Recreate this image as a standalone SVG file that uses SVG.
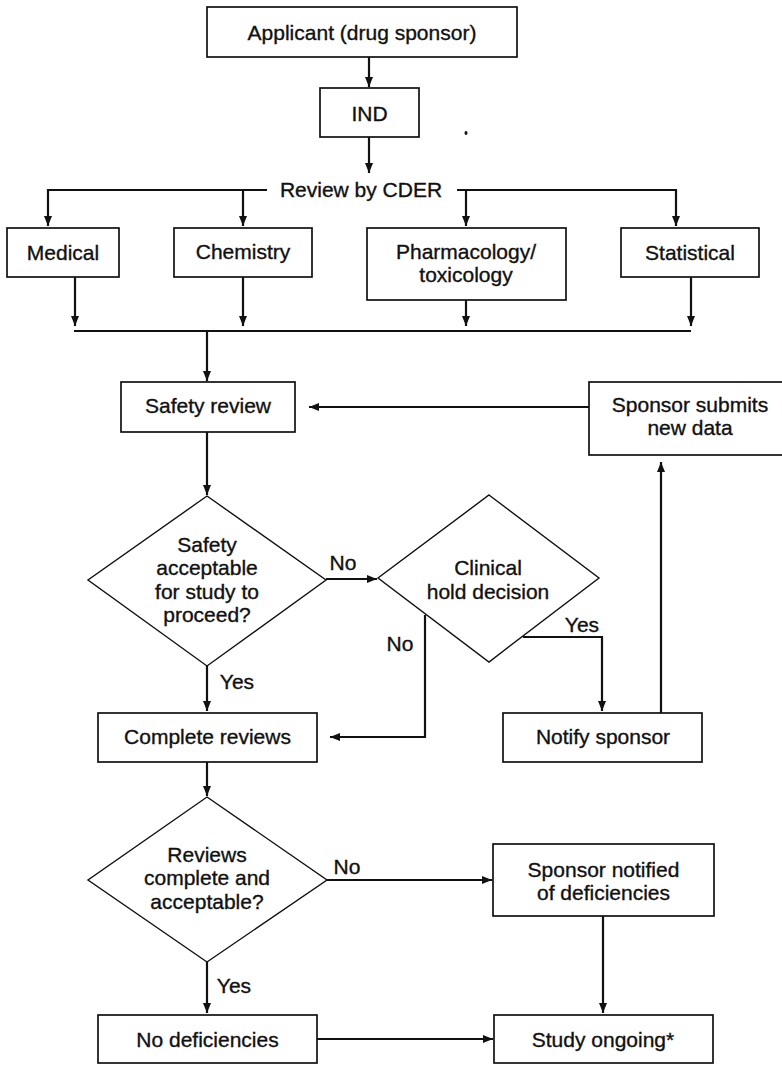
<svg xmlns="http://www.w3.org/2000/svg" width="782" height="1065" viewBox="0 0 782 1065">
  <defs>
    <marker id="arrow" markerUnits="userSpaceOnUse" markerWidth="11" markerHeight="9" refX="10" refY="4" orient="auto">
      <path d="M0,0 L10,4 L0,8 z" fill="#111"/>
    </marker>
    <style>
      .box { fill: #fff; stroke: #111; stroke-width: 1.7; }
      .dia { fill: #fff; stroke: #111; stroke-width: 1.4; }
      .lbl { font-family: "Liberation Sans", Arial, sans-serif; font-size: 21px; fill: #111; stroke: #111; stroke-width: 0.35; text-anchor: middle; }
      .edge { fill: none; stroke: #111; stroke-width: 2.2; }
      .arr { marker-end: url(#arrow); }
    </style>
  </defs>
  <rect width="782" height="1065" fill="#fff"/>

  <!-- connectors -->
  <g id="connectors">
    <path class="edge arr" d="M369,57 V87"/>
    <path class="edge arr" d="M369,137 V173"/>
    <path class="edge arr" d="M267,190 H48 V226"/>
    <path class="edge arr" d="M243,190 V226"/>
    <path class="edge arr" d="M457,190 H676 V226"/>
    <path class="edge arr" d="M466,190 V226"/>
    <path class="edge arr" d="M75,277 V326"/>
    <path class="edge arr" d="M243,277 V326"/>
    <path class="edge arr" d="M466,300 V326"/>
    <path class="edge arr" d="M691,277 V326"/>
    <path class="edge" d="M74,331 H691"/>
    <path class="edge arr" d="M207,331 V381"/>
    <path class="edge arr" d="M589,407 H309"/>
    <path class="edge arr" d="M207,432 V495"/>
    <path class="edge arr" d="M326,579 H377"/>
    <path class="edge arr" d="M207,666 V711"/>
    <path class="edge arr" d="M425,615 V737 H330"/>
    <path class="edge arr" d="M523,637 H602 V711"/>
    <path class="edge arr" d="M661,713 V462"/>
    <path class="edge arr" d="M207,762 V796"/>
    <path class="edge arr" d="M327,880 H492"/>
    <path class="edge arr" d="M207,962 V1013"/>
    <path class="edge arr" d="M603,916 V1013"/>
    <path class="edge arr" d="M317,1039 H493"/>
  </g>

  <!-- edge labels -->
  <g id="edge-labels">
    <text class="lbl" x="343" y="570">No</text>
    <text class="lbl" x="400" y="651">No</text>
    <text class="lbl" x="582" y="632">Yes</text>
    <text class="lbl" x="237" y="689">Yes</text>
    <text class="lbl" x="347" y="874">No</text>
    <text class="lbl" x="234" y="993">Yes</text>
  </g>

  <!-- stray ink mark -->
  <ellipse cx="466" cy="133" rx="1.5" ry="2" fill="#111"/>

  <g id="applicant">
    <rect class="box" x="207" y="7" width="310" height="50"/>
    <text class="lbl" x="362" y="40">Applicant (drug sponsor)</text>
  </g>
  <g id="ind">
    <rect class="box" x="320" y="88" width="99" height="49"/>
    <text class="lbl" x="369.5" y="121">IND</text>
  </g>
  <g id="review-cder">
    <text class="lbl" x="361" y="197">Review by CDER</text>
  </g>
  <g id="medical">
    <rect class="box" x="7" y="228" width="112" height="49"/>
    <text class="lbl" x="63" y="260">Medical</text>
  </g>
  <g id="chemistry">
    <rect class="box" x="174" y="228" width="138" height="49"/>
    <text class="lbl" x="243" y="259">Chemistry</text>
  </g>
  <g id="pharmacology">
    <rect class="box" x="367" y="228" width="199" height="72"/>
    <text class="lbl" x="466" y="259">Pharmacology/</text>
    <text class="lbl" x="466" y="282">toxicology</text>
  </g>
  <g id="statistical">
    <rect class="box" x="621" y="228" width="138" height="49"/>
    <text class="lbl" x="690" y="260">Statistical</text>
  </g>
  <g id="safety-review">
    <rect class="box" x="121" y="382" width="174" height="50"/>
    <text class="lbl" x="208" y="413">Safety review</text>
  </g>
  <g id="sponsor-submits">
    <rect class="box" x="589" y="382" width="200" height="73"/>
    <text class="lbl" x="690" y="412">Sponsor submits</text>
    <text class="lbl" x="690" y="435">new data</text>
  </g>
  <g id="safety-decision">
    <polygon class="dia" points="207,496 326,580 207,666 88,580"/>
    <text class="lbl" x="207" y="552">Safety</text>
    <text class="lbl" x="207" y="575">acceptable</text>
    <text class="lbl" x="207" y="599">for study to</text>
    <text class="lbl" x="207" y="622">proceed?</text>
  </g>
  <g id="clinical-hold">
    <polygon class="dia" points="489,495 599,578 489,662 378,578"/>
    <text class="lbl" x="488" y="575">Clinical</text>
    <text class="lbl" x="488" y="599">hold decision</text>
  </g>
  <g id="complete-reviews">
    <rect class="box" x="98" y="713" width="219" height="49"/>
    <text class="lbl" x="207.5" y="744">Complete reviews</text>
  </g>
  <g id="notify-sponsor">
    <rect class="box" x="503" y="713" width="199" height="49"/>
    <text class="lbl" x="603" y="744">Notify sponsor</text>
  </g>
  <g id="reviews-decision">
    <polygon class="dia" points="207,797 327,880 207,962 88,880"/>
    <text class="lbl" x="207" y="862">Reviews</text>
    <text class="lbl" x="207" y="885">complete and</text>
    <text class="lbl" x="207" y="909">acceptable?</text>
  </g>
  <g id="sponsor-notified">
    <rect class="box" x="493" y="844" width="221" height="72"/>
    <text class="lbl" x="603.5" y="877">Sponsor notified</text>
    <text class="lbl" x="603.5" y="900">of deficiencies</text>
  </g>
  <g id="no-deficiencies">
    <rect class="box" x="98" y="1015" width="219" height="48"/>
    <text class="lbl" x="207.5" y="1047">No deficiencies</text>
  </g>
  <g id="study-ongoing">
    <rect class="box" x="494" y="1015" width="219" height="48"/>
    <text class="lbl" x="603" y="1047">Study ongoing*</text>
  </g>
</svg>
